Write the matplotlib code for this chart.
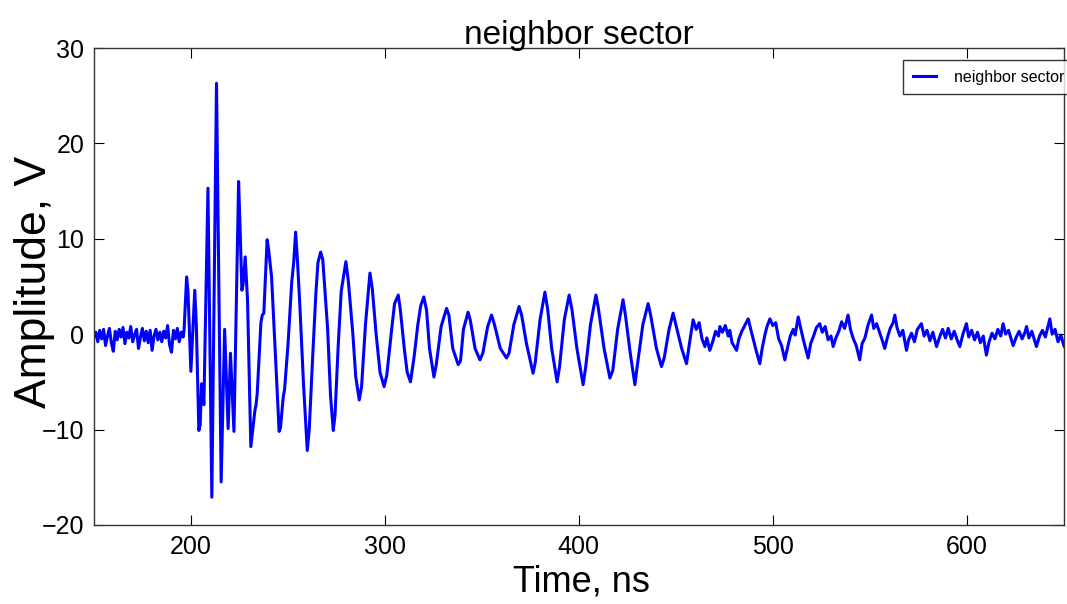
import numpy as np
import matplotlib
matplotlib.use("Agg")
import matplotlib.pyplot as plt
from matplotlib import font_manager

# ---------------- data ----------------
pre_time = list(range(150, 197))
pre_amp = [-0.3, 0.2, -0.8, 0.4, -0.5, 0.5, -1.2, -0.2, 0.6, -0.9,
           -1.8, 0.3, -0.6, 0.5, -0.3, 0.7, -1.0, 0.2, -0.4, 0.8,
           -0.8, -0.1, 0.5, -1.5, -0.3, 0.6, -0.7, 0.3, -0.9, 0.4,
           -1.7, -0.2, 0.5, -0.6, 0.2, -0.8, 0.3, -0.4, 0.9, -1.1,
           -1.9, 0.4, -0.5, 0.6, -0.8, 0.2, -0.3]

burst_time = [196.5, 197.8, 198.5, 200.0, 202.0, 202.8, 204.1, 204.8, 205.5, 206.0,
              206.7, 208.8, 210.8, 213.2, 215.6, 217.4, 219.2, 220.4, 222.2, 224.6,
              225.3, 226.3, 226.9, 228.0, 229.2, 230.9, 233.0, 233.6, 234.2, 236.1,
              236.8, 237.6, 239.3, 240.0, 241.6, 243.5, 245.5, 246.2, 247.6, 248.3,
              250.1, 252.0, 253.0, 254.0, 255.0, 256.2, 258.0, 260.0, 261.0, 263.0,
              264.5, 265.5, 266.9, 268.0, 270.5, 272.0, 273.4, 274.3, 276.0, 277.5,
              279.9, 281.2, 283.5, 285.0, 286.8, 288.0, 290.0, 292.3, 293.5, 295.5,
              297.5, 299.6]
burst_amp = [0.5, 6.0, 4.5, -3.9, 4.6, 1.0, -10.1, -9.5, -5.2, -5.6,
             -7.4, 15.3, -17.1, 26.3, -15.5, 0.5, -9.9, -2.0, -10.2, 16.0,
             11.5, 4.6, 5.2, 8.1, 3.6, -11.8, -8.0, -7.4, -6.2, 1.2,
             2.0, 2.2, 9.9, 9.0, 6.0, -2.0, -10.2, -9.8, -6.6, -5.8,
             -1.0, 5.5, 7.5, 10.7, 7.5, 2.9, -5.0, -12.2, -10.0, -1.5,
             4.5, 7.5, 8.6, 7.8, 0.5, -6.5, -10.1, -8.5, -1.0, 4.5,
             7.6, 5.5, 0.0, -4.5, -6.9, -5.5, 1.0, 6.4, 4.8, 0.0,
             -4.0, -5.5]

ring_time = [301.0, 303.5, 305.0, 306.9, 308.0, 310.0, 311.5, 313.2, 315.0, 317.0,
             318.5, 320.1, 321.5, 323.0, 325.3, 326.5, 329.0, 331.8, 333.0, 335.0,
             337.8, 339.0, 340.5, 342.9, 344.0, 346.5, 349.0, 350.5, 353.0, 355.0,
             356.5, 359.5, 362.7, 364.0, 366.5, 369.2, 370.5, 373.0, 376.4, 377.5,
             380.0, 382.5, 384.0, 386.0, 388.8, 390.0, 392.5, 395.0, 396.5, 399.0,
             402.2, 403.5, 406.0, 408.8, 410.0, 413.0, 416.0, 417.5, 420.0, 422.8,
             424.0, 426.5, 428.9, 430.0, 433.0, 435.7, 437.0, 440.0, 442.6, 444.0,
             446.5, 448.6, 450.0, 453.0, 455.5, 457.0, 458.9]
ring_amp = [-4.3, 0.5, 3.2, 4.1, 2.5, -1.5, -4.0, -5.0, -2.5, 1.0,
            3.0, 3.9, 2.5, -1.5, -4.5, -3.2, 0.8, 2.7, 2.0, -1.5,
            -3.2, -2.8, 0.5, 2.3, 1.5, -1.5, -2.7, -2.0, 0.8, 2.0,
            1.0, -1.5, -2.5, -2.0, 1.0, 2.9, 2.0, -1.0, -4.1, -3.0,
            1.5, 4.4, 2.5, -1.5, -5.0, -3.5, 1.5, 4.1, 2.5, -1.5,
            -5.3, -3.5, 1.0, 4.1, 2.8, -1.5, -4.6, -3.8, 0.5, 3.6,
            2.0, -2.0, -5.3, -3.5, 1.0, 3.2, 2.0, -1.5, -3.4, -2.5,
            0.5, 2.2, 1.0, -1.5, -3.1, -1.0, 1.5]

tail_time = [460.5, 462.0, 463.5, 465.0, 466.0, 467.5, 469.0, 470.5, 472.0, 472.7,
             474.0, 475.5, 477.0, 477.8, 479.0, 481.3, 482.5, 484.0, 485.5, 487.3,
             488.5, 490.0, 491.5, 493.3, 494.5, 496.0, 497.0, 498.5, 500.0, 501.5,
             503.0, 504.5, 506.2, 507.5, 509.0, 510.5, 511.5, 513.1, 514.5, 516.0,
             518.2, 519.5, 521.0, 522.5, 524.2, 525.5, 527.0, 528.5, 530.0, 531.1,
             532.5, 534.0, 535.5, 537.0, 538.8, 540.0, 541.5, 543.0, 544.8, 546.0,
             547.5, 549.0, 550.9, 552.0, 553.5, 555.2, 556.5, 557.7, 559.0, 560.5,
             562.0, 562.9, 564.0, 565.5, 567.0, 568.9, 570.0, 571.5, 573.0, 574.5,
             576.6, 578.0, 579.5, 581.0, 582.5, 584.4, 586.0, 587.5, 589.0, 590.4,
             592.0, 593.5, 595.0, 596.4, 598.0, 599.8, 601.0, 602.5, 604.0, 605.5,
             607.0, 608.5, 610.1, 611.5, 613.0, 614.5, 616.0, 617.5, 618.7, 620.0,
             621.5, 623.0, 623.9, 625.5, 627.0, 628.5, 630.0, 630.8, 632.0, 633.5,
             635.0, 635.9, 637.5, 639.0, 640.5, 642.8, 644.0, 645.5, 647.0, 648.5,
             650.0, 651.4]
tail_amp = [0.5, 1.2, -0.5, -1.3, -0.4, -1.7, -0.8, 0.3, -0.2, 0.8,
            0.2, 0.9, -0.2, 0.4, -0.9, -1.7, -0.5, 0.3, 0.9, 1.6,
            0.6, -0.6, -1.8, -3.1, -1.5, 0.0, 0.8, 1.6, 0.9, 1.2,
            -0.5, -1.2, -2.7, -1.5, -0.2, 0.5, -0.1, 1.8, 0.5, -0.8,
            -2.5, -1.0, -0.2, 0.7, 1.1, 0.2, 0.8, -0.6, -0.2, -1.3,
            -0.4, 0.3, 1.3, 0.6, 2.0, 0.5, -0.5, -1.2, -2.7, -1.0,
            -0.4, 0.9, 2.0, 0.6, 1.1, 0.1, -0.7, -1.5, -0.4, 0.6,
            1.2, 2.0, 0.7, -0.2, 0.4, -1.7, -0.6, 0.1, -0.8, 0.5,
            1.1, -0.2, 0.4, -0.7, 0.2, -1.3, -0.3, 0.5, -0.4, 0.6,
            -0.5, 0.3, -0.6, -1.3, 0.0, 1.1, -0.3, 0.4, -0.6, 0.2,
            -0.9, -0.2, -2.2, -0.8, 0.1, -0.5, 0.5, -0.2, 1.1, 0.0,
            0.4, -0.6, -1.2, -0.3, 0.3, -0.5, 0.2, 0.8, -0.4, 0.3,
            -0.7, -1.3, -0.2, 0.4, -0.3, 1.6, 0.0, 0.5, -0.8, -0.1,
            -1.2, -1.7]

x_ticks = [200, 300, 400, 500, 600]
y_ticks = [-20, -10, 0, 10, 20, 30]
series_label = "neighbor sector"

time_ns = np.array(pre_time + burst_time + ring_time + tail_time, dtype=float)
amplitude = np.array(pre_amp + burst_amp + ring_amp + tail_amp, dtype=float)

# ---------------- fonts ----------------
names = {f.name for f in font_manager.fontManager.ttflist}
fam = [n for n in ["Liberation Sans Narrow", "Liberation Sans", "DejaVu Sans"] if n in names]
plt.rcParams["font.family"] = fam

fig = plt.figure(figsize=(10.67, 6.04), dpi=100)
ax = fig.add_axes([0.088, 0.131, 0.909, 0.7895])

ax.plot(time_ns, amplitude, color="#0000ff", lw=2.2, label=series_label)

ax.set_xlim(150, 650)
ax.set_ylim(-20, 30)
ax.set_xticks(x_ticks)
ax.set_yticks(y_ticks)
ax.set_yticklabels([str(v).replace("-", "\u2212") for v in y_ticks])
ax.tick_params(direction="in", top=True, right=True, length=7, width=0.8,
               labelsize=18, pad=7)
for s in ax.spines.values():
    s.set_linewidth(1.0)
    s.set_color("#333333")

ax.set_title("neighbor sector", fontsize=24, pad=3)
ax.set_xlabel("Time, ns", fontsize=26)
ax.xaxis.set_label_coords(0.503, -0.083)
ax.set_ylabel("Amplitude, V", fontsize=32)
ax.yaxis.set_label_coords(-0.040, 0.51)

leg = ax.legend(loc="upper right", bbox_to_anchor=(1.01, 0.975), fontsize=11.5,
                frameon=True, fancybox=False, handlelength=1.45, handletextpad=1.1,
                borderaxespad=0.0, borderpad=0.6)
leg.get_frame().set_edgecolor("black")
leg.get_frame().set_linewidth(1.0)

fig.savefig("out.png", dpi=100)
